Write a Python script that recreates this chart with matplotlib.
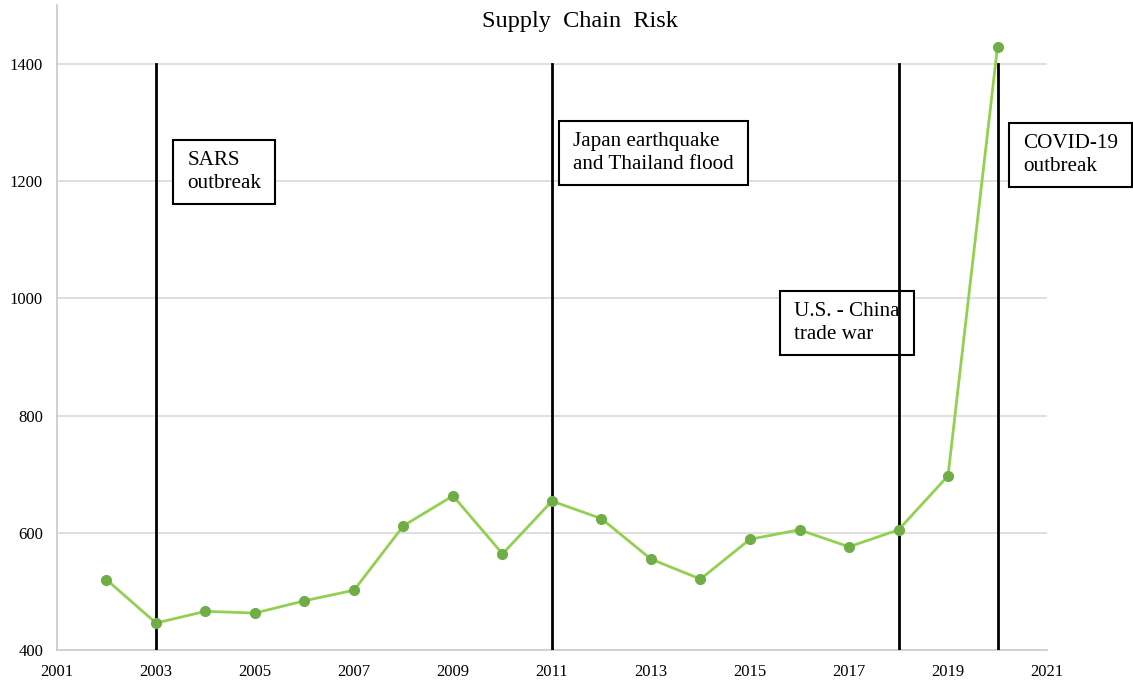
import matplotlib.pyplot as plt

years = list(range(2002, 2021))
risk = [520, 446, 466, 463, 484, 502, 612, 663, 564, 654,
        624, 555, 521, 589, 605, 576, 605, 697, 1429]

event_years = [2003, 2011, 2018, 2020]
event_labels = ["SARS\noutbreak", "Japan earthquake\nand Thailand flood",
                "U.S. - China\ntrade war", "COVID-19\noutbreak"]
label_pos = [(2003.63, 1251), (2011.42, 1283), (2015.89, 993), (2020.52, 1280)]

plt.rcParams["font.family"] = ["Liberation Serif", "DejaVu Serif"]

fig = plt.figure(figsize=(11.33, 6.81), dpi=100)
ax = fig.add_axes([0.0503, 0.0455, 0.8738, 0.947])

ax.set_xlim(2001, 2021)
ax.set_ylim(400, 1500)
ax.set_xticks(range(2001, 2022, 2))
ax.set_yticks(range(400, 1401, 200))
ax.tick_params(length=0, labelsize=12)
ax.tick_params(axis="y", pad=10)
ax.tick_params(axis="x", pad=10)

for y in range(600, 1401, 200):
    ax.plot([2001, 2021], [y, y], color="#d9d9d9", lw=1.2, zorder=0)

for s in ["top", "right"]:
    ax.spines[s].set_visible(False)
for s in ["left", "bottom"]:
    ax.spines[s].set_color("#c8c8c8")
    ax.spines[s].set_linewidth(1.2)

for yr in event_years:
    ax.plot([yr, yr], [400, 1400], color="black", lw=2, zorder=3)

ax.plot(years, risk, color="#92d050", lw=2, zorder=4)
ax.plot(years, risk, "o", color="#70ad47", ms=7, zorder=5)

for (x, y), lab in zip(label_pos, event_labels):
    ax.text(x, y, lab, fontsize=15.2, va="top", ha="left", linespacing=1.25,
            bbox=dict(boxstyle="square,pad=0.67", mutation_aspect=0.8,
                      fc="white", ec="black", lw=1.5),
            zorder=2, clip_on=False)

fig.text(0.512, 0.969, "Supply  Chain  Risk", ha="center", va="center", fontsize=17.5)

fig.savefig("out.png", dpi=100)
